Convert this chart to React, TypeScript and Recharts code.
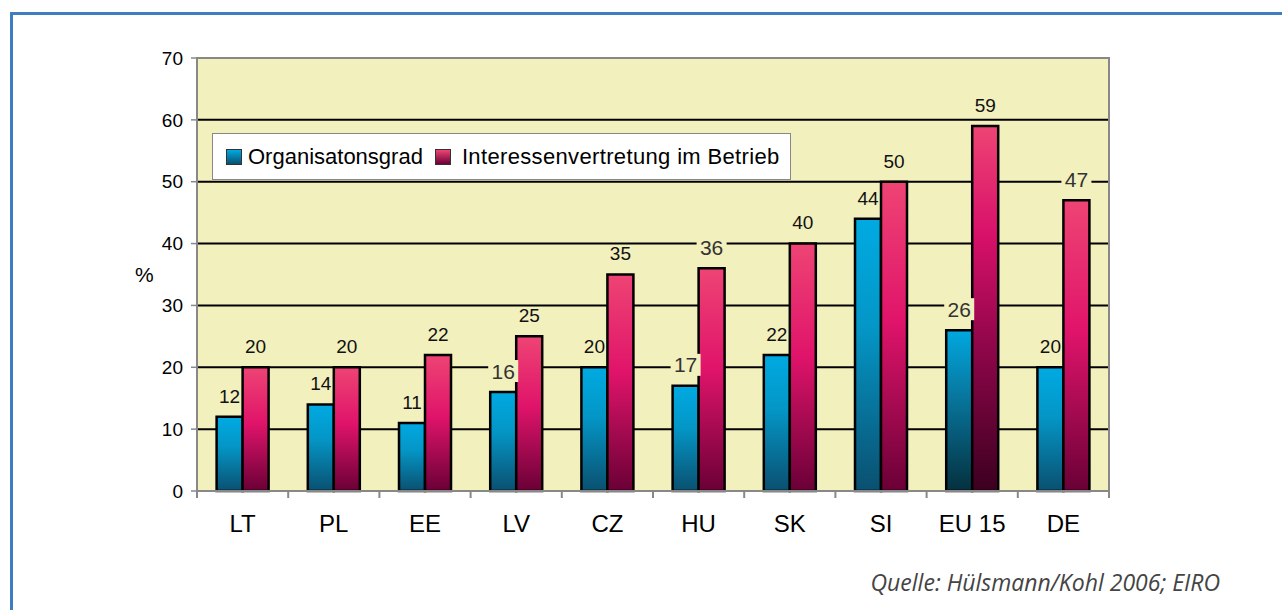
import {
  BarChart,
  Bar,
  XAxis,
  YAxis,
  CartesianGrid,
  Legend,
  LabelList,
  Cell,
  ReferenceArea,
} from 'recharts'

const categories = ['LT', 'PL', 'EE', 'LV', 'CZ', 'HU', 'SK', 'SI', 'EU 15', 'DE']
const organisationsgrad = [12, 14, 11, 16, 20, 17, 22, 44, 26, 20]
const interessenvertretung = [20, 20, 22, 25, 35, 36, 40, 50, 59, 47]
const yTicks = [0, 10, 20, 30, 40, 50, 60, 70]
const gridValues = [10, 20, 30, 40, 50, 60]
const highlighted = 'EU 15'

const FONT = '"Liberation Sans", Arial, sans-serif'
const PLOT_BG = '#F2F0BD'

const data = categories.map((cat, i) => ({
  cat,
  org: organisationsgrad[i],
  int: interessenvertretung[i],
}))

// value label above the bar; gets a plot-coloured box when it sits on a gridline
function ValueLabel(props: any) {
  const vb = props.viewBox || props
  const x = vb.x ?? props.x
  const y = vb.y ?? props.y
  const width = vb.width ?? props.width
  const height = vb.height ?? props.height
  const value = Number(props.value)
  const cx = x + width / 2
  const cy = y - 21
  const ppu = value ? height / value : 0
  const onGrid = gridValues.some((g) => Math.abs(y + (value - g) * ppu - cy) < 6)
  if (onGrid) {
    return (
      <g>
        <rect x={cx - 15} y={cy - 11} width={30} height={22} fill={PLOT_BG} />
        <text x={cx} y={cy} dy="0.36em" textAnchor="middle" fontSize={21} fill="#333" fontFamily={FONT}>
          {value}
        </text>
      </g>
    )
  }
  return (
    <text x={cx} y={cy} dy="0.36em" textAnchor="middle" fontSize={19} fill="#111" fontFamily={FONT}>
      {value}
    </text>
  )
}

// category label plus separator ticks between the categories
function CategoryTick(props: any) {
  const { x, y, payload, index, visibleTicksCount } = props
  const half = payload.offset || 45.6
  const axisY = y - 24
  return (
    <g>
      <line x1={x - half} x2={x - half} y1={axisY} y2={axisY + 7} stroke="#888" strokeWidth={2} />
      {index === visibleTicksCount - 1 && (
        <line x1={x + half} x2={x + half} y1={axisY} y2={axisY + 7} stroke="#888" strokeWidth={2} />
      )}
      <text x={x} y={y} dy="0.71em" textAnchor="middle" fontSize={24} fill="#000" fontFamily={FONT}>
        {payload.value}
      </text>
    </g>
  )
}

function LegendBox() {
  const square = (bg: string) => ({
    display: 'inline-block',
    width: 14,
    height: 14,
    border: '1px solid #333',
    background: bg,
    marginRight: 6,
  })
  return (
    <div
      style={{
        width: 579,
        height: 47,
        boxSizing: 'border-box',
        background: '#fff',
        border: '1.5px solid #888',
        display: 'flex',
        alignItems: 'center',
        paddingLeft: 13,
        fontFamily: FONT,
        fontSize: 22,
        color: '#000',
      }}
    >
      <span style={square('linear-gradient(#00AAE2, #0A5070)')} />
      <span style={{ marginRight: 12 }}>Organisatonsgrad</span>
      <span style={square('linear-gradient(#EE4474, #6A0036)')} />
      <span style={{ marginLeft: 5, letterSpacing: 0.35 }}>Interessenvertretung im Betrieb</span>
    </div>
  )
}

export default function App() {
  return (
    <div
      style={{
        position: 'absolute',
        left: 0,
        top: 0,
        width: 1282,
        height: 610,
        overflow: 'hidden',
        background: '#fff',
      }}
    >
      <div
        style={{
          position: 'absolute',
          left: 10,
          top: 12,
          width: 1400,
          height: 800,
          border: '3px solid #3E7EC0',
        }}
      />
      <div style={{ position: 'absolute', left: 0, top: 0 }}>
        <BarChart
          width={1282}
          height={610}
          data={data}
          margin={{ top: 58, right: 173, bottom: 79, left: 127 }}
          barCategoryGap="21.5%"
          barGap={0}
        >
          <defs>
            <linearGradient id="gBlue" x1="0" y1="0" x2="0" y2="1">
              <stop offset="0%" stopColor="#00AAE2" />
              <stop offset="40%" stopColor="#0496C6" />
              <stop offset="100%" stopColor="#0A5070" />
            </linearGradient>
            <linearGradient id="gBlueDark" x1="0" y1="0" x2="0" y2="1">
              <stop offset="0%" stopColor="#00A8E0" />
              <stop offset="40%" stopColor="#0878A0" />
              <stop offset="100%" stopColor="#05303E" />
            </linearGradient>
            <linearGradient id="gPink" x1="0" y1="0" x2="0" y2="1">
              <stop offset="0%" stopColor="#EE4474" />
              <stop offset="45%" stopColor="#E0146A" />
              <stop offset="100%" stopColor="#6A0036" />
            </linearGradient>
            <linearGradient id="gPinkDark" x1="0" y1="0" x2="0" y2="1">
              <stop offset="0%" stopColor="#EE4474" />
              <stop offset="30%" stopColor="#D8106A" />
              <stop offset="60%" stopColor="#90064A" />
              <stop offset="100%" stopColor="#3C0020" />
            </linearGradient>
          </defs>
          <CartesianGrid
            vertical={false}
            fill={PLOT_BG}
            stroke="#000"
            strokeWidth={2}
            horizontalValues={gridValues}
          />
          <XAxis
            dataKey="cat"
            height={40}
            interval={0}
            tickSize={0}
            tickMargin={24}
            tickLine={false}
            axisLine={{ stroke: '#888', strokeWidth: 2 }}
            tick={<CategoryTick />}
          />
          <YAxis
            width={70}
            domain={[0, 70]}
            ticks={yTicks}
            interval={0}
            tickSize={6}
            tickMargin={8}
            tickLine={{ stroke: '#888', strokeWidth: 1.5 }}
            axisLine={{ stroke: '#888', strokeWidth: 2 }}
            tick={{ fontSize: 19, fill: '#000', fontFamily: FONT }}
            label={{ value: '%', position: 'insideLeft', offset: 8, fontSize: 21, fill: '#000', fontFamily: FONT }}
          />
          <ReferenceArea y1={0} y2={70} fill="none" stroke="#888" strokeWidth={2} ifOverflow="visible" />
          <Legend
            layout="horizontal"
            verticalAlign="middle"
            align="center"
            content={<LegendBox />}
            wrapperStyle={{ left: 212, top: 133, width: 579, height: 47 }}
          />
          <Bar dataKey="org" name="Organisatonsgrad" fill="url(#gBlue)" stroke="#000" strokeWidth={2.5} isAnimationActive={false}>
            {data.map((d) => (
              <Cell key={d.cat} fill={d.cat === highlighted ? 'url(#gBlueDark)' : 'url(#gBlue)'} />
            ))}
            <LabelList dataKey="org" content={<ValueLabel />} />
          </Bar>
          <Bar
            dataKey="int"
            name="Interessenvertretung im Betrieb"
            fill="url(#gPink)"
            stroke="#000"
            strokeWidth={2.5}
            isAnimationActive={false}
          >
            {data.map((d) => (
              <Cell key={d.cat} fill={d.cat === highlighted ? 'url(#gPinkDark)' : 'url(#gPink)'} />
            ))}
            <LabelList dataKey="int" content={<ValueLabel />} />
          </Bar>
        </BarChart>
      </div>
      <div
        style={{
          position: 'absolute',
          right: 62,
          top: 566,
          fontFamily: '"Open Sans", sans-serif',
          fontStyle: 'italic',
          fontSize: 23,
          color: '#444',
          whiteSpace: 'nowrap',
        }}
      >
        Quelle: Hülsmann/Kohl 2006; EIRO
      </div>
    </div>
  )
}
